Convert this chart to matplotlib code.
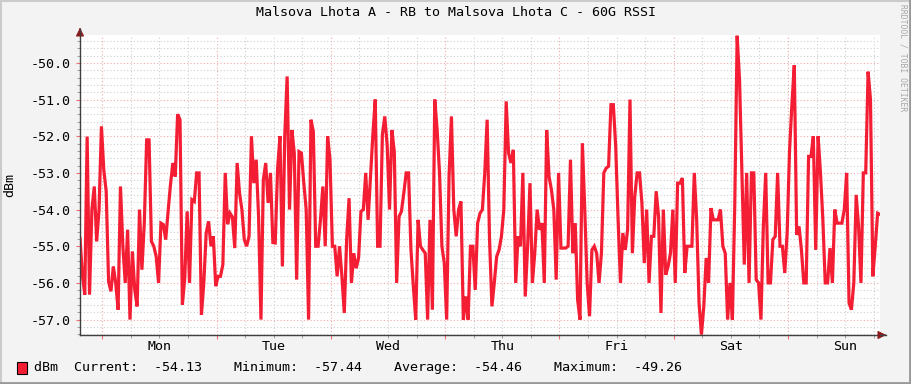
import numpy as np
import matplotlib
matplotlib.use("Agg")
import matplotlib.pyplot as plt
from matplotlib.lines import Line2D
from matplotlib.patches import Rectangle

# RSSI samples, one every 30 min over one week (dBm)
rssi = [
    -54.78, -55.78, -56.32, -52.01, -56.32, -54.00, -53.37, -54.87, -54.00, -51.73,
    -52.92, -53.50, -55.96, -56.23, -55.55, -56.00, -56.73, -53.37, -55.00, -56.00,
    -54.55, -57.00, -55.14, -56.19, -56.64, -54.00, -55.64, -54.37, -52.10, -52.10,
    -54.87, -55.00, -55.28, -56.00, -54.37, -54.41, -54.82, -54.05, -53.32, -52.73,
    -53.10, -51.40, -51.55, -56.59, -55.87, -54.05, -56.00, -53.73, -53.78, -53.00,
    -53.00, -56.87, -56.00, -54.64, -54.32, -55.00, -54.73, -56.09, -55.82, -55.82,
    -55.50, -53.00, -54.40, -54.10, -54.20, -55.05, -52.73, -53.55, -54.00, -54.82,
    -55.00, -54.73, -52.00, -53.28, -52.64, -54.19, -57.00, -53.19, -52.73, -53.82,
    -53.00, -54.90, -54.91, -52.87, -52.00, -55.55, -52.00, -50.37, -54.00, -51.83,
    -52.46, -55.91, -52.42, -52.46, -53.28, -54.00, -57.00, -51.55, -51.87, -55.00,
    -55.00, -54.28, -53.37, -55.00, -52.00, -52.64, -55.00, -55.00, -55.82, -55.00,
    -55.82, -56.82, -54.80, -53.69, -56.00, -55.19, -55.60, -55.32, -54.05, -54.00,
    -53.00, -54.28, -53.10, -51.96, -51.00, -55.00, -55.00, -51.96, -51.46, -52.23,
    -54.00, -51.83, -52.42, -56.00, -54.19, -54.05, -53.55, -53.00, -53.00, -55.10,
    -56.09, -57.00, -54.28, -55.00, -55.10, -55.19, -57.00, -54.28, -56.73, -51.00,
    -51.83, -53.00, -55.00, -55.46, -57.00, -53.10, -51.46, -54.00, -54.73, -54.00,
    -53.78, -57.00, -56.37, -57.00, -55.00, -55.00, -56.19, -54.37, -54.10, -54.00,
    -53.00, -51.55, -54.80, -56.64, -56.00, -55.28, -55.10, -54.73, -54.00, -51.05,
    -52.46, -52.73, -52.37, -56.00, -54.73, -55.00, -53.00, -56.37, -55.00, -53.28,
    -56.00, -55.19, -54.00, -54.55, -54.37, -56.00, -51.83, -53.10, -53.46, -54.00,
    -55.91, -53.00, -55.05, -55.05, -55.05, -55.00, -52.64, -55.19, -54.37, -56.46,
    -57.00, -52.19, -54.00, -56.00, -56.91, -55.10, -55.00, -55.19, -56.00, -55.19,
    -53.00, -52.87, -52.82, -51.14, -51.14, -52.28, -54.28, -56.00, -54.64, -55.10,
    -54.55, -51.00, -55.19, -53.64, -53.00, -53.00, -53.82, -55.46, -54.00, -56.00,
    -54.73, -54.73, -53.50, -54.19, -56.82, -54.00, -55.78, -55.55, -55.19, -54.00,
    -56.00, -53.28, -53.28, -53.14, -55.73, -55.00, -55.00, -55.00, -53.00, -54.28,
    -56.55, -57.41, -56.64, -55.32, -56.00, -53.96, -54.28, -54.28, -54.28, -54.00,
    -55.00, -55.19, -57.00, -56.00, -57.00, -53.87, -49.26, -50.46, -53.00, -55.50,
    -53.00, -56.00, -53.00, -53.00, -55.91, -56.00, -57.00, -54.46, -53.00, -56.00,
    -56.00, -54.82, -54.73, -53.00, -55.00, -55.00, -55.73, -54.64, -52.40, -51.14,
    -50.06, -54.69, -54.46, -55.10, -56.00, -56.00, -52.55, -52.55, -52.00, -55.10,
    -52.00, -53.00, -54.28, -56.00, -56.00, -55.05, -56.00, -54.00, -54.37, -54.37,
    -54.37, -54.00, -53.00, -56.55, -56.73, -56.00, -53.60, -54.46, -56.00, -53.00,
    -53.00, -50.24, -51.00, -55.82, -55.00, -54.10, -54.13,
]
days = ["Mon", "Tue", "Wed", "Thu", "Fri", "Sat", "Sun"]
first_midnight = 4.68   # hours from graph start to Monday 00:00
stats = {"Current": -54.13, "Minimum": -57.44, "Average": -54.46, "Maximum": -49.26}

hours = np.arange(len(rssi)) * 0.5

plt.rcParams["font.family"] = ["DejaVu Sans Mono"]
fs = 9.6

W, H = 911, 384
fig = plt.figure(figsize=(W / 100, H / 100), dpi=100, facecolor="#F3F3F3")
ax = fig.add_axes([80 / W, (H - 335) / H, 800 / W, 300 / H])
ax.set_facecolor("white")

ax.plot(hours, rssi, color="#F41E34", lw=2.3, solid_joinstyle="miter")

ax.set_xlim(0, 168)
ax.set_ylim(-57.42, -49.24)

# grid
midnights = first_midnight + 24 * np.arange(7)
sixes = np.arange(first_midnight % 6, 168, 6)
ax.set_xticks(midnights)
ax.set_xticks([s for s in sixes if not np.any(np.isclose(s, midnights))], minor=True)
ax.set_yticks(np.arange(-57, -49.9, 1.0))
ax.set_yticks(np.arange(-57.4, -49.2, 0.2), minor=True)
ax.yaxis.set_major_formatter(matplotlib.ticker.FormatStrFormatter("%.1f"))
ax.set_xticklabels([])
ax.grid(which="minor", color="#CFCFCF", linestyle=(0, (1, 2)), lw=0.8)
ax.grid(which="major", color="#F2A8A8", linestyle=(0, (1, 2)), lw=0.8)
ax.set_axisbelow(True)
ax.tick_params(axis="y", which="major", length=3, width=0.8, color="#F07070",
               direction="out", pad=4, labelsize=fs, labelcolor="black")
ax.tick_params(axis="y", which="minor", length=2, width=0.6, color="#909090", direction="out")
ax.tick_params(axis="x", which="major", length=3, width=0.8, color="#F07070", direction="out")
ax.tick_params(axis="x", which="minor", length=2, width=0.6, color="#909090", direction="out")

for s in ["top", "right"]:
    ax.spines[s].set_visible(False)
for s in ["left", "bottom"]:
    ax.spines[s].set_color("#404040")
    ax.spines[s].set_linewidth(1.0)

# axis arrows (pixel coords)
def px(x, y):
    return x / W, 1 - y / H

fig.add_artist(Line2D(*zip(px(880, 335), px(886, 335)), color="#404040", lw=1.0))
fig.add_artist(Line2D(*zip(px(80, 35), px(80, 29)), color="#404040", lw=1.0))
ax.annotate("", xy=px(889, 335), xytext=px(882, 335), xycoords="figure fraction",
            arrowprops=dict(arrowstyle="-|>,head_length=0.5,head_width=0.25",
                            color="#8B1A1A", lw=0.8))
ax.annotate("", xy=px(80, 25), xytext=px(80, 32), xycoords="figure fraction",
            arrowprops=dict(arrowstyle="-|>,head_length=0.5,head_width=0.25",
                            color="#8B1A1A", lw=0.8))

for k, d in enumerate(days):
    ax.text(first_midnight + 12 + 24 * k, -0.04, d, transform=ax.get_xaxis_transform(),
            ha="center", va="center", fontsize=fs)

# texts
fig.text(0.5, 1 - 12 / H, "Malsova Lhota A - RB to Malsova Lhota C - 60G RSSI",
         ha="center", va="center", fontsize=fs)
fig.text(10 / W, 1 - 185 / H, "dBm", rotation=90, ha="center", va="center", fontsize=fs)
fig.text(903 / W, 1 - 58 / H, "RRDTOOL / TOBI OETIKER", rotation=270, ha="center",
         va="center", fontsize=5.8, color="#A8A8A8")

legend = "dBm  " + "    ".join(f"{k}:  {v:.2f}" for k, v in stats.items())
fig.text(34 / W, 1 - 368 / H, legend, ha="left", va="center", fontsize=fs)
fig.add_artist(Rectangle(px(17, 374), 10 / W, 12 / H, transform=fig.transFigure,
                         facecolor="#F41E34", edgecolor="black", lw=0.8))

# 3D-ish frame
fig.add_artist(Line2D([0, 1], [1 - 1 / H, 1 - 1 / H], color="#CBCBCB", lw=1.5))
fig.add_artist(Line2D([1 / W, 1 / W], [0, 1], color="#CBCBCB", lw=1.5))
fig.add_artist(Line2D([0, 1], [1 / H, 1 / H], color="#999999", lw=2))
fig.add_artist(Line2D([1 - 1 / W, 1 - 1 / W], [0, 1], color="#999999", lw=2))

fig.savefig("out.png", dpi=100, facecolor=fig.get_facecolor())
